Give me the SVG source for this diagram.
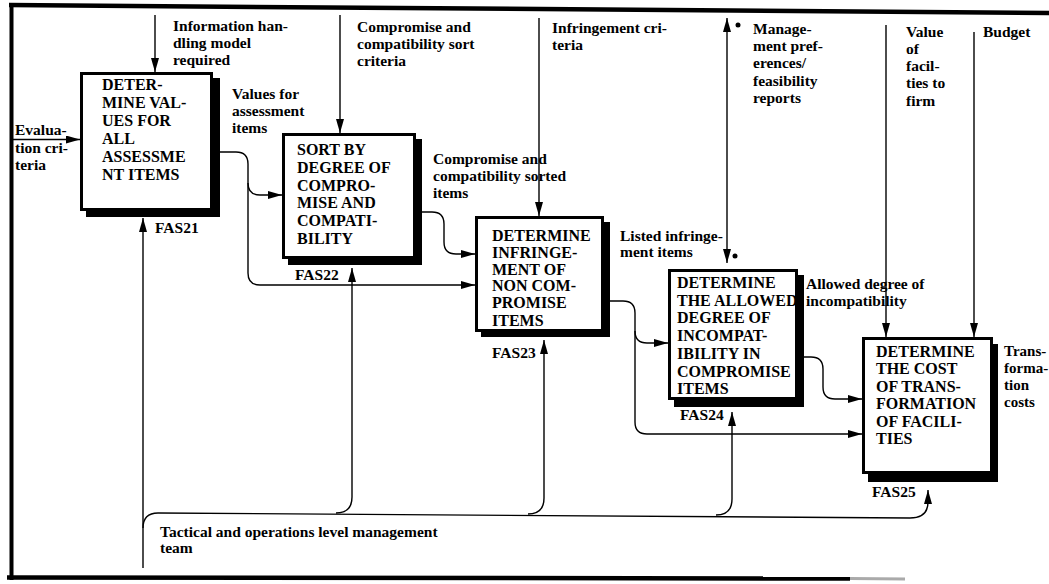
<svg xmlns="http://www.w3.org/2000/svg" width="1049" height="584" viewBox="0 0 1049 584">
<style>
.frame{stroke:#000;fill:none}
.c{stroke:#000;stroke-width:1.4;fill:none;marker-end:url(#ah)}
.box{fill:#fff;stroke:#000;stroke-width:3}
.sh{fill:#000}
.bt{font-family:"Liberation Serif","Times New Roman",serif;font-weight:bold;font-size:16px;fill:#000}
.lb{font-family:"Liberation Serif","Times New Roman",serif;font-weight:bold;font-size:15.5px;fill:#000}
</style>
<defs>
<marker id="ah" viewBox="0 0 14 8" refX="14" refY="4" markerWidth="14" markerHeight="8" markerUnits="userSpaceOnUse" orient="auto-start-reverse"><path d="M0,0 L14,4 L0,8 z" fill="#000"/></marker>
</defs>
<rect width="1049" height="584" fill="#fff"/>
<g id="frame">
<line class="frame" x1="11.5" y1="3" x2="11.5" y2="580" stroke-width="4"/>
<line class="frame" x1="9" y1="5" x2="1049" y2="13" stroke-width="4.5"/>
<line class="frame" x1="7" y1="577.5" x2="850" y2="578.5" stroke-width="4.5"/>
<line x1="850" y1="578.5" x2="905" y2="579" stroke="#aaa" stroke-width="3"/>
</g>
<g id="connectors">
<path class="c" d="M13,139.5 H80"/>
<path class="c" d="M155,15 V72"/>
<path class="c" d="M340,15 V133"/>
<path class="c" d="M539,18 V216"/>
<path class="c" d="M727,18 V263" style="marker-start:url(#ah)"/>
<path class="c" d="M886,25 V337"/>
<path class="c" d="M974,32 V337"/>
<path class="c" d="M220,152 H236 Q248,152 248,164 V273 Q248,285 260,285 H475"/>
<path class="c" d="M248,183 Q248,195 260,195 H282"/>
<path class="c" d="M422,212 H432 Q444,212 444,224 V242 Q444,254 456,254 H475"/>
<path class="c" d="M610,301 H623 Q635,301 635,313 V331 Q635,343 647,343 H668"/>
<path class="c" d="M635,331 V422 Q635,434 647,434 H862"/>
<path class="c" d="M804,357 H811 Q823,357 823,369 V387 Q823,399 835,399 H862"/>
<path class="c" d="M143,568 V218"/>
<path class="c" d="M143,528 Q143,513 158,513 L910,518 Q928,518 928,502 V490"/>
<path class="c" d="M336,513 Q352,513 352,497 V268"/>
<path class="c" d="M528,514 Q544,514 544,498 V340"/>
<path class="c" d="M716,515 Q732,515 732,499 V412"/>
<circle cx="738" cy="25" r="2.5" fill="#000"/>
<circle cx="735" cy="256" r="2.5" fill="#000"/>
</g>
<g id="FAS21">
<rect class="sh" x="86" y="78" width="134" height="139"/>
<rect class="box" x="81.5" y="73.5" width="130" height="136"/>
<text class="bt"><tspan x="102" y="90">DETER-</tspan><tspan x="102" y="108">MINE VAL-</tspan><tspan x="102" y="126">UES FOR</tspan><tspan x="102" y="144">ALL</tspan><tspan x="102" y="162">ASSESSME</tspan><tspan x="102" y="180">NT ITEMS</tspan></text>
<text class="lb" x="155" y="233">FAS21</text>
</g>
<g id="FAS22">
<rect class="sh" x="288" y="139" width="134" height="126"/>
<rect class="box" x="283.5" y="134.5" width="131" height="123"/>
<text class="bt"><tspan x="297" y="155">SORT BY</tspan><tspan x="297" y="173">DEGREE OF</tspan><tspan x="297" y="191">COMPRO-</tspan><tspan x="297" y="208">MISE AND</tspan><tspan x="297" y="226">COMPATI-</tspan><tspan x="297" y="244">BILITY</tspan></text>
<text class="lb" x="295" y="280">FAS22</text>
</g>
<g id="FAS23">
<rect class="sh" x="481" y="222" width="129" height="115"/>
<rect class="box" x="476.5" y="217.5" width="126" height="113"/>
<text class="bt"><tspan x="492" y="241">DETERMINE</tspan><tspan x="492" y="258">INFRINGE-</tspan><tspan x="492" y="275">MENT OF</tspan><tspan x="492" y="291">NON COM-</tspan><tspan x="492" y="308">PROMISE</tspan><tspan x="492" y="326">ITEMS</tspan></text>
<text class="lb" x="492" y="358">FAS23</text>
</g>
<g id="FAS24">
<rect class="sh" x="674" y="275" width="130" height="132"/>
<rect class="box" x="669.5" y="270.5" width="127" height="128"/>
<text class="bt"><tspan x="677" y="288">DETERMINE</tspan><tspan x="677" y="306">THE ALLOWED</tspan><tspan x="677" y="323">DEGREE OF</tspan><tspan x="677" y="341">INCOMPAT-</tspan><tspan x="677" y="359">IBILITY IN</tspan><tspan x="677" y="377">COMPROMISE</tspan><tspan x="677" y="394">ITEMS</tspan></text>
<text class="lb" x="680" y="420">FAS24</text>
</g>
<g id="FAS25">
<rect class="sh" x="868" y="344" width="130" height="138"/>
<rect class="box" x="863.5" y="338.5" width="128" height="134"/>
<text class="bt"><tspan x="876" y="357">DETERMINE</tspan><tspan x="876" y="374">THE COST</tspan><tspan x="876" y="392">OF TRANS-</tspan><tspan x="876" y="409">FORMATION</tspan><tspan x="876" y="427">OF FACILI-</tspan><tspan x="876" y="444">TIES</tspan></text>
<text class="lb" x="872" y="497">FAS25</text>
</g>
<g id="labels">
<text class="lb"><tspan x="173" y="31">Information han-</tspan><tspan x="173" y="48">dling model</tspan><tspan x="173" y="65">required</tspan></text>
<text class="lb"><tspan x="15" y="135">Evalua-</tspan><tspan x="15" y="153">tion cri-</tspan><tspan x="15" y="170">teria</tspan></text>
<text class="lb"><tspan x="232" y="99">Values for</tspan><tspan x="232" y="116">assessment</tspan><tspan x="232" y="133">items</tspan></text>
<text class="lb"><tspan x="357" y="32">Compromise and</tspan><tspan x="357" y="49">compatibility sort</tspan><tspan x="357" y="66">criteria</tspan></text>
<text class="lb"><tspan x="433" y="164">Compromise and</tspan><tspan x="433" y="181">compatibility sorted</tspan><tspan x="433" y="198">items</tspan></text>
<text class="lb"><tspan x="552" y="33">Infringement cri-</tspan><tspan x="552" y="50">teria</tspan></text>
<text class="lb"><tspan x="620" y="241">Listed infringe-</tspan><tspan x="620" y="257">ment items</tspan></text>
<text class="lb"><tspan x="753" y="34">Manage-</tspan><tspan x="753" y="51">ment pref-</tspan><tspan x="753" y="68">erences/</tspan><tspan x="753" y="86">feasibility</tspan><tspan x="753" y="103">reports</tspan></text>
<text class="lb"><tspan x="906" y="37">Value</tspan><tspan x="906" y="54">of</tspan><tspan x="906" y="71">facil-</tspan><tspan x="906" y="88">ties to</tspan><tspan x="906" y="106">firm</tspan></text>
<text class="lb" x="983" y="37">Budget</text>
<text class="lb"><tspan x="806" y="289">Allowed degree of</tspan><tspan x="806" y="306">incompatibility</tspan></text>
<text class="lb" style="font-size:15px"><tspan x="1004" y="356">Trans-</tspan><tspan x="1004" y="373">forma-</tspan><tspan x="1004" y="390">tion</tspan><tspan x="1004" y="407">costs</tspan></text>
<text class="lb"><tspan x="160" y="537">Tactical and operations level management</tspan><tspan x="160" y="553">team</tspan></text>
</g>
</svg>
